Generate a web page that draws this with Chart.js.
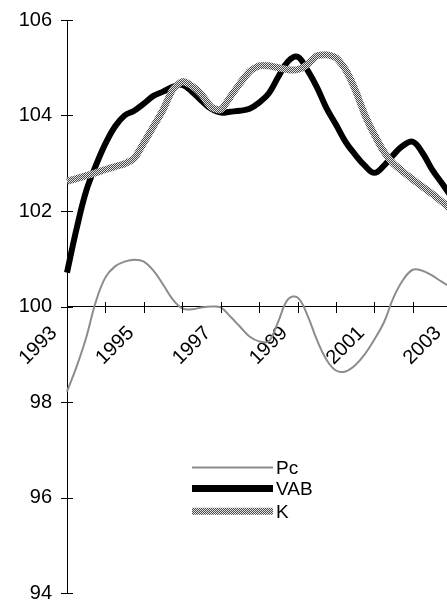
<!DOCTYPE html>
<html>
<head>
<meta charset="utf-8">
<script src="https://cdn.jsdelivr.net/npm/chart.js@4.4.1/dist/chart.umd.min.js"></script>
<style>
html, body { margin: 0; padding: 0; background: #fff; overflow: hidden; }
#chart { position: absolute; left: 0; top: -7px; }
</style>
</head>
<body>
<canvas id="chart" width="512" height="627"></canvas>
<script>
// quarterly categories, 1993Q1 .. 2003Q4
const categories = [
    "1993Q1","1993Q2","1993Q3","1993Q4","1994Q1","1994Q2","1994Q3","1994Q4",
    "1995Q1","1995Q2","1995Q3","1995Q4","1996Q1","1996Q2","1996Q3","1996Q4",
    "1997Q1","1997Q2","1997Q3","1997Q4","1998Q1","1998Q2","1998Q3","1998Q4",
    "1999Q1","1999Q2","1999Q3","1999Q4","2000Q1","2000Q2","2000Q3","2000Q4",
    "2001Q1","2001Q2","2001Q3","2001Q4","2002Q1","2002Q2","2002Q3","2002Q4",
    "2003Q1","2003Q2","2003Q3","2003Q4"
];
const tickLabels = ["1993", "1995", "1997", "1999", "2001", "2003"];
const yTicks = [94, 96, 98, 100, 102, 104, 106];

const pc = [98.22, 98.74, 99.35, 100.1, 100.61, 100.84, 100.94, 100.98, 100.94, 100.75,
    100.46, 100.15, 99.96, 99.94, 99.98, 100.0, 99.98, 99.79, 99.58, 99.37,
    99.27, 99.27, 99.69, 100.15, 100.19, 99.83, 99.31, 98.89, 98.66, 98.64,
    98.77, 99.0, 99.31, 99.67, 100.19, 100.56, 100.77, 100.75, 100.65, 100.52, 100.4];
const vab = [100.71, 101.63, 102.42, 102.95, 103.41, 103.77, 104.0, 104.1, 104.25, 104.41,
    104.5, 104.6, 104.64, 104.5, 104.31, 104.14, 104.06, 104.08, 104.1, 104.14,
    104.27, 104.46, 104.81, 105.13, 105.23, 104.96, 104.6, 104.16, 103.81, 103.45,
    103.18, 102.95, 102.8, 102.95, 103.18, 103.37, 103.45, 103.22, 102.87, 102.59, 102.3];
const k = [102.62, 102.68, 102.74, 102.8, 102.87, 102.93, 102.99, 103.1, 103.43, 103.77,
    104.12, 104.54, 104.71, 104.62, 104.44, 104.18, 104.12, 104.39, 104.67, 104.92,
    105.04, 105.04, 105.0, 104.96, 104.96, 105.06, 105.25, 105.27, 105.21, 104.96,
    104.54, 104.02, 103.6, 103.24, 102.99, 102.82, 102.66, 102.51, 102.36, 102.2, 102.03];

const FONT = "'Liberation Sans', Arial, sans-serif";

// checkered fill for K
function makePattern() {
    const c = document.createElement("canvas");
    c.width = 2; c.height = 2;
    const g = c.getContext("2d");
    g.fillStyle = "#e4e4e4";
    g.fillRect(0, 0, 2, 2);
    g.fillStyle = "#4a4a4a";
    g.fillRect(0, 0, 1, 1);
    g.fillRect(1, 1, 1, 1);
    return g.createPattern(c, "repeat");
}
const kPattern = makePattern();

const axisMarks = {
    id: "axisMarks",
    afterDraw(chart) {
        const { ctx, scales: { x, y } } = chart;
        ctx.save();
        ctx.strokeStyle = "#000";
        ctx.lineWidth = 1;
        ctx.beginPath();
        yTicks.forEach(v => {
            const py = Math.round(y.getPixelForValue(v)) + 0.5;
            ctx.moveTo(x.left - 6, py);
            ctx.lineTo(x.left + 6, py);
        });
        const y0 = Math.round(y.getPixelForValue(100));
        categories.forEach((c, i) => {
            if (c.endsWith("Q1")) {
                const px = Math.round(x.getPixelForValue(i)) + 0.5;
                ctx.moveTo(px, y0 - 5);
                ctx.lineTo(px, y0 + 6);
            }
        });
        ctx.stroke();

        // legend
        const lx = x.left + 125;
        const rows = [
            { text: "Pc", y: y.getPixelForValue(96.63), color: "#8c8c8c", w: 2 },
            { text: "VAB", y: y.getPixelForValue(96.19), color: "#000", w: 7 },
            { text: "K", y: y.getPixelForValue(95.71), color: kPattern, w: 7 }
        ];
        ctx.font = "19px " + FONT;
        ctx.textBaseline = "middle";
        ctx.fillStyle = "#000";
        rows.forEach(r => {
            ctx.beginPath();
            ctx.strokeStyle = r.color;
            ctx.lineWidth = r.w;
            ctx.moveTo(lx, r.y);
            ctx.lineTo(lx + 81, r.y);
            ctx.stroke();
            ctx.fillText(r.text, lx + 84, r.y + 1);
        });
        ctx.restore();
    }
};

const chart = new Chart(document.getElementById("chart"), {
    type: "line",
    data: {
        labels: categories,
        datasets: [
            { label: "Pc", data: pc, borderColor: "#8c8c8c", borderWidth: 2, tension: 0.4, order: 2 },
            { label: "VAB", data: vab, borderColor: "#000", borderWidth: 6, tension: 0.4, order: 1 },
            { label: "K", data: k, borderColor: kPattern, borderWidth: 7, tension: 0.2, order: 0 }
        ]
    },
    options: {
        responsive: false,
        animation: false,
        layout: { padding: 0 },
        elements: { point: { radius: 0 } },
        plugins: {
            legend: { display: false },
            tooltip: { enabled: false }
        },
        scales: {
            x: {
                type: "category",
                position: { y: 100 },
                offset: false,
                grid: { display: false, drawTicks: false },
                border: { display: true, color: "#000", width: 1 },
                ticks: {
                    autoSkip: false,
                    maxRotation: 45,
                    minRotation: 45,
                    padding: 15,
                    labelOffset: -13,
                    color: "#000",
                    font: { family: FONT, size: 20 },
                    callback: (v, i) => {
                        const c = categories[i];
                        const yr = c.slice(0, 4);
                        return c.endsWith("Q1") && tickLabels.includes(yr) ? yr : "";
                    }
                }
            },
            y: {
                min: 94,
                max: 106,
                grid: { display: false, drawTicks: false },
                border: { display: true, color: "#000", width: 1 },
                afterFit: s => { s.width = 67; },
                ticks: {
                    stepSize: 2,
                    padding: 15,
                    color: "#000",
                    font: { family: FONT, size: 20 }
                }
            }
        }
    },
    plugins: [axisMarks]
});
</script>
</body>
</html>
